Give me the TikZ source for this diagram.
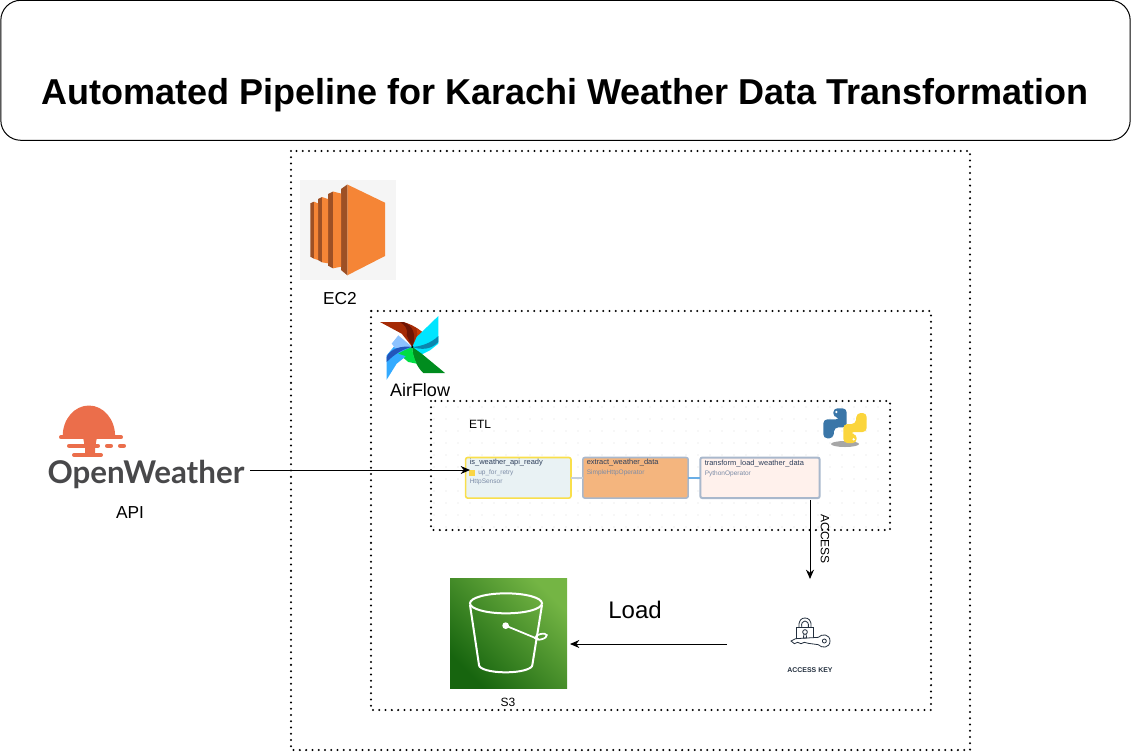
\documentclass[tikz,border=0pt]{standalone}
\usepackage{fontspec}
\setmainfont{Liberation Sans}
\newfontfamily\owfont{Lato}
\usetikzlibrary{arrows.meta}
\newcommand{\px}[1]{\fontsize{#1}{#1}\selectfont}
\definecolor{ecorange}{HTML}{F58536}
\definecolor{ecdark}{HTML}{9D5025}
\definecolor{owsun}{HTML}{EB6E4B}
\definecolor{owgrey}{HTML}{48484A}
\definecolor{keyink}{HTML}{232F3E}
\definecolor{taskink}{HTML}{2D3E5A}
\definecolor{tasksub}{HTML}{7B8BA6}
\definecolor{taskedge}{HTML}{A9B8CC}
\definecolor{taskyellow}{HTML}{F9DF4B}
\definecolor{readyfill}{HTML}{E9F2F4}
\definecolor{extractfill}{HTML}{F4B57E}
\definecolor{transformfill}{HTML}{FFF1EC}
\definecolor{linkgrey}{HTML}{C5D0DE}
\definecolor{linkblue}{HTML}{6AAEE6}
\definecolor{sthreedark}{HTML}{17650F}
\definecolor{sthreelight}{HTML}{74B544}
\definecolor{pyblue}{HTML}{3A76A8}
\definecolor{pyyellow}{HTML}{FBD53C}
\definecolor{afred}{HTML}{A52A05}
\definecolor{afmaroon}{HTML}{6E1505}
\definecolor{afflame}{HTML}{C83A05}
\definecolor{afcyan}{HTML}{00E5FF}
\definecolor{afteal}{HTML}{0A86AE}
\definecolor{aflime}{HTML}{00DD44}
\definecolor{afgreen}{HTML}{008C1E}
\definecolor{afsky}{HTML}{33AAFF}
\definecolor{afpale}{HTML}{8CC2FF}
\definecolor{afnavy}{HTML}{2255BB}
\begin{document}
\begin{tikzpicture}[x=0.75pt,y=-0.75pt,
  dotbox/.style={black,line width=1.7pt,line cap=round,dash pattern=on 0pt off 4.7pt},
  flow/.style={black,line width=0.75pt,-{Stealth[length=7pt,width=6pt]}},
  label/.style={inner sep=0pt,text=black},
  taskbox/.style={draw,rounded corners=1.5pt,line width=1.2pt,minimum height=30.4pt,inner sep=0pt,outer sep=0pt},
  taskname/.style={inner sep=0pt,anchor=west,text=taskink},
  tasktype/.style={inner sep=0pt,anchor=west,text=tasksub},
  sunbar/.style={line width=3pt,line cap=round}]
  \useasboundingbox (0,0) rectangle (1131,753);
  \node [draw=black,line width=0.75pt,rounded corners=15pt,minimum width=847pt,minimum height=105pt,inner sep=0pt] (title) at (565.5,70.3) {};
  \node [label,font=\bfseries\px{27}] (titletext) at (565,95.5) {Automated Pipeline for Karachi Weather Data Transformation};
  \draw [dotbox] (291,151) rectangle (970,750);
  \draw [dotbox] (371,311) rectangle (931,710);
  \foreach \gx in {434,446,...,890}
    \foreach \gy in {407,419,...,527}
      \fill [black!14] (\gx,\gy) circle (0.5pt);
  \draw [dotbox] (431,401) rectangle (890,530);
  \fill [black!4] (300,180) rectangle (396,280);
  \fill [ecorange] (347.3,184.5) -- (385,202.7) -- (385,256) -- (347.3,275.3) -- cycle;
  \fill [ecdark] (341,189) -- (347.3,184.5) -- (347.3,275.3) -- (341,270) -- cycle;
  \fill [ecdark] (328,194) -- (333,191.5) -- (333,268.3) -- (328,265.7) -- cycle;
  \fill [ecorange] (333,191.5) -- (341,193.5) -- (341,266.7) -- (333,268.3) -- cycle;
  \fill [ecdark] (318,199) -- (322,197) -- (322,262.3) -- (318,260) -- cycle;
  \fill [ecorange] (322,197) -- (328,199) -- (328,263.3) -- (322,262.3) -- cycle;
  \fill [ecdark] (310.3,203.3) -- (314,201.7) -- (314,258.7) -- (310.3,256.7) -- cycle;
  \fill [ecorange] (314,201.7) -- (318,203.3) -- (318,260) -- (314,258.7) -- cycle;
  \node [label,font=\px{13}] (ectwo) at (340,299) {EC2};
  \begin{scope}[shift={(375,312)},x=0.25pt,y=-0.25pt]
    \fill [afred] (15,30) -- (85,30) .. controls (120,40) and (145,60) .. (155,75) -- (145,90) -- (112,105) -- (80,65) -- cycle;
    \fill [afmaroon] (85,30) .. controls (115,40) and (125,70) .. (112,105) -- (95,70) .. controls (100,50) and (90,40) .. (75,30) -- cycle;
    \fill [afflame] (125,50) .. controls (140,58) and (150,68) .. (155,75) -- (145,90) -- (112,105) .. controls (125,90) and (130,70) .. (125,50) -- cycle;
    \fill [afcyan] (190,12) -- (190,95) -- (165,115) -- (135,130) -- (112,105) -- (125,75) -- cycle;
    \fill [afteal] (112,105) .. controls (140,103) and (170,92) .. (190,72) -- (190,90) .. controls (170,112) and (140,115) .. (112,105) -- cycle;
    \fill [afgreen] (210,183) -- (145,183) .. controls (125,165) and (110,130) .. (112,105) -- (140,125) -- cycle;
    \fill [aflime] (70,125) .. controls (85,110) and (100,108) .. (112,105) .. controls (112,125) and (118,140) .. (125,155) -- (100,150) -- cycle;
    \fill [afsky] (35,203) -- (35,130) -- (60,100) -- (112,105) -- (90,135) -- (65,155) -- cycle;
    \fill [afpale] (70,70) -- (112,105) -- (60,108) -- (50,95) -- cycle;
    \fill [afnavy] (35,135) .. controls (45,110) and (80,100) .. (112,105) .. controls (85,110) and (60,125) .. (35,150) -- cycle;
    \fill [aflime] (70,125) .. controls (85,115) and (100,110) .. (112,105) -- (100,135) -- cycle;
    \fill [black] (112,105) circle (4);
  \end{scope}
  \node [label,font=\px{13.5}] (airflow) at (420,390) {AirFlow};
  \node [label,font=\px{9}] (etl) at (480,424) {ETL};
  \begin{scope}[shift={(815,400)},x=0.25pt,y=-0.25pt]
    \fill [black!35] (90,132) ellipse (42 and 9);
    \fill [pyblue,rounded corners=3pt] (55,52) -- (55,25) -- (95,25) -- (95,82) -- (58,82) -- (55,115) -- (25,115) -- (25,58) -- (75,58) -- (75,52) -- cycle;
    \fill [white] (64,36) circle (4);
    \begin{scope}[rotate around={180:(90,77)}]
      \fill [pyyellow,rounded corners=3pt] (55,52) -- (55,25) -- (95,25) -- (95,82) -- (58,82) -- (55,115) -- (25,115) -- (25,58) -- (75,58) -- (75,52) -- cycle;
      \fill [white] (64,36) circle (4);
    \end{scope}
  \end{scope}
  \node [taskbox,draw=taskyellow,fill=readyfill,minimum width=79pt] (isready) at (518.3,477.8) {};
  \node [taskbox,draw=taskedge,fill=extractfill,minimum width=79pt] (extract) at (635.5,477.8) {};
  \node [taskbox,draw=taskedge,fill=transformfill,line width=1.5pt,minimum width=89.5pt] (transform) at (760,477.8) {};
  \draw [linkgrey,line width=1.1pt] (isready) -- (extract);
  \draw [linkblue,line width=1.1pt] (extract) -- (transform);
  \node [taskname,font=\px{5.6}] (isreadyname) at (469.5,463) {is\_weather\_api\_ready};
  \node [tasktype,font=\px{4.9}] (isreadyretry) at (478,472.7) {up\_for\_retry};
  \node [tasktype,font=\px{4.9}] (isreadytype) at (469.5,481.7) {HttpSensor};
  \node [fill=taskyellow!90!orange,minimum size=4pt,inner sep=0pt] (retrymark) at (472,473) {};
  \node [taskname,font=\px{5.6}] (extractname) at (586.5,463) {extract\_weather\_data};
  \node [tasktype,font=\px{4.9}] (extracttype) at (586.5,472.7) {SimpleHttpOperator};
  \node [taskname,font=\px{5.6}] (transformname) at (704.5,464) {transform\_load\_weather\_data};
  \node [tasktype,font=\px{4.9}] (transformtype) at (704.5,473.5) {PythonOperator};
  \begin{scope}[owsun]
    \fill (62.7,436) arc (180:360:26.2 and 30.5) -- cycle;
    \draw [sunbar] (61,437.3) -- (121,437.3);
    \draw [sunbar] (69,445.7) -- (98,445.7);
    \draw [sunbar] (107,445.7) -- (111,445.7);
    \draw [sunbar] (120,445.7) -- (124,445.7);
    \draw [sunbar] (74,455) -- (101,455);
    \fill (83,437) -- (97,437) -- (95,448) -- (95,455) -- (85,455) -- (85,448) -- cycle;
  \end{scope}
  \node [label,text=owgrey,font=\owfont\bfseries\px{23.5},anchor=base] (openweather) at (146,483) {OpenWeather};
  \node [label,font=\px{13}] (api) at (130,513) {API};
  \node [shade,top color=sthreelight,bottom color=sthreedark,shading angle=-45,minimum width=87.75pt,minimum height=82.5pt,inner sep=0pt,outer sep=0pt] (sthree) at (508.5,633) {};
  \begin{scope}[shift={(440,570)},x=0.25pt,y=-0.25pt]
    \draw [white,line width=1.5pt] (198,100) ellipse (108 and 30);
    \draw [white,line width=1.5pt] (90,105) -- (117,285) arc (180:0:80 and 22) -- (306,105);
    \fill [white] (197,167) circle (10);
    \draw [white,line width=1.3pt] (197,167) -- (296,208);
    \draw [white,line width=1.3pt,rotate around={15:(303,200)}] (303,200) ellipse (18 and 8);
  \end{scope}
  \node [label,font=\px{9}] (sthreelabel) at (508,702) {S3};
  \begin{scope}[shift={(775,610)},x=0.25pt,y=-0.25pt,keyink,line width=0.6pt]
    \draw (72,52) .. controls (70,30) and (80,24) .. (90,24) .. controls (100,24) and (110,30) .. (108,52);
    \draw (80,52) .. controls (78,38) and (84,33) .. (90,33) .. controls (96,33) and (102,38) .. (100,52);
    \draw (64,85) -- (64,52) -- (116,52) -- (116,85);
    \draw (90,66) circle (7);
    \draw (87,72) -- (85,84) -- (95,84) -- (93,72);
    \draw (130,82) -- (62,86) -- (48,93) -- (58,101) -- (68,97) -- (78,101) -- (88,97) -- (100,100) -- (130,104);
    \draw (130,82) .. controls (140,70) and (165,72) .. (165,93) .. controls (165,114) and (140,116) .. (130,104);
    \draw (148,93) circle (6);
  \end{scope}
  \node [label,text=keyink,font=\bfseries\px{5.2}] (accesskey) at (810,670) {ACCESS KEY};
  \coordinate (weatherout) at (250,470);
  \coordinate (weatherin) at (470,470);
  \coordinate (accessout) at (810,500);
  \coordinate (accessin) at (810,579);
  \coordinate (loadout) at (727,644);
  \coordinate (loadin) at (570,644);
  \draw [flow] (weatherout) -- (weatherin);
  \draw [flow] (accessout) -- (accessin);
  \draw [flow] (loadout) -- (loadin);
  \node [label,font=\px{9},rotate=-90] (access) at (825,539) {ACCESS};
  \node [label,font=\px{18}] (load) at (635,610) {Load};
\end{tikzpicture}
\end{document}
